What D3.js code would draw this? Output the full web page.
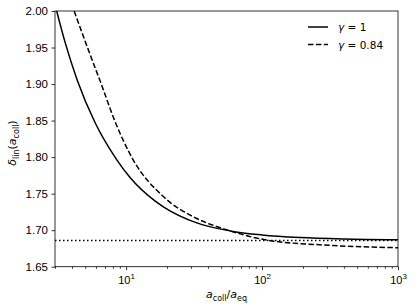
<!DOCTYPE html>
<html lang="en">
<head>
  <meta charset="UTF-8" />
  <title>delta_lin vs a_coll</title>
  <script src="https://d3js.org/d3.v7.min.js"></script>
  <style>
    body { margin: 0; background: #fff; }
    svg { display: block; font-family: "DejaVu Sans", sans-serif; }
    .tick text { fill: #000; }
    .curve { fill: none; stroke: #000; stroke-width: 1.5px; }
  </style>
</head>
<body>
  <svg id="chart" width="416" height="308"></svg>
  <script>
    // values
    const aSolid = [3.0, 3.56, 4.38, 5.92, 8.5, 10.7, 16.3, 18.8, 33.1, 58.2, 100, 190, 400, 1000];
    const dSolid = [2.009, 1.957, 1.905, 1.847, 1.797, 1.772, 1.740, 1.732, 1.710, 1.699, 1.6935, 1.690, 1.688, 1.687];
    const aDashed = [4.15, 5.2, 6.63, 8.2, 11.3, 18.8, 33.1, 46.4, 58.2, 108, 334, 1000];
    const dDashed = [2.000, 1.950, 1.898, 1.851, 1.796, 1.746, 1.716, 1.705, 1.699, 1.6865, 1.679, 1.676];
    const deltaC = 1.686;
    const yTicks = [1.65, 1.70, 1.75, 1.80, 1.85, 1.90, 1.95, 2.00];
    const xMajor = [10, 100, 1000];
    const xExp = ["1", "2", "3"];
    const legendLabels = ["1", "0.84"];

    const margin = {top: 11, right: 18, bottom: 41.3, left: 55};
    const W = 416, H = 308;
    const w = W - margin.left - margin.right, h = H - margin.top - margin.bottom;

    const svg = d3.select("#chart");
    const g = svg.append("g").attr("transform", `translate(${margin.left},${margin.top})`);

    const x = d3.scaleLog().domain([3, 1000]).range([0, w]);
    const y = d3.scaleLinear().domain([1.65, 2.0]).range([h, 0]);

    g.append("clipPath").attr("id", "clip")
      .append("rect").attr("width", w).attr("height", h);

    const line = d3.line().x(d => x(d[0])).y(d => y(d[1])).curve(d3.curveMonotoneX);
    const plot = g.append("g").attr("clip-path", "url(#clip)");

    plot.append("line")
      .attr("x1", 0).attr("x2", w)
      .attr("y1", y(deltaC)).attr("y2", y(deltaC))
      .attr("stroke", "#000").attr("stroke-width", 1.5)
      .attr("stroke-dasharray", "1.5,2.5");

    plot.append("path").attr("class", "curve")
      .attr("d", line(d3.zip(aSolid, dSolid)));
    plot.append("path").attr("class", "curve")
      .attr("stroke-dasharray", "5.5,2.4")
      .attr("d", line(d3.zip(aDashed, dDashed)));

    // axes
    const yAxis = d3.axisLeft(y).tickValues(yTicks).tickFormat(d3.format(".2f"))
      .tickSize(3.5).tickPadding(3.5);
    const ya = g.append("g").call(yAxis);
    ya.selectAll("text").attr("font-size", 11.5);

    const minor = [];
    for (let k = 1; k <= 100; k *= 10)
      for (let m = 2; m <= 9; m++) { const v = m * k; if (v >= 3 && v < 1000) minor.push(v); }
    g.append("g").attr("transform", `translate(0,${h})`)
      .call(d3.axisBottom(x).tickValues(minor).tickSize(2).tickFormat(""));
    const xm = g.append("g").attr("transform", `translate(0,${h})`)
      .call(d3.axisBottom(x).tickValues(xMajor).tickSize(3.5).tickFormat(""));
    xm.selectAll(".tick").each(function(d, i) {
      const t = d3.select(this).append("text").attr("y", 17).attr("text-anchor", "middle")
        .attr("font-size", 11);
      t.append("tspan").text("10");
      t.append("tspan").attr("dy", -4.5).attr("font-size", 8).text(xExp[i]);
    });
    g.selectAll(".domain").remove();
    g.selectAll(".tick line").attr("stroke-width", 0.8);

    g.append("rect").attr("width", w).attr("height", h)
      .attr("fill", "none").attr("stroke", "#000").attr("stroke-width", 0.8);

    // labels
    const xl = svg.append("text").attr("x", margin.left + w / 2).attr("y", 298)
      .attr("text-anchor", "middle").attr("font-size", 11);
    xl.append("tspan").attr("font-style", "italic").text("a");
    xl.append("tspan").attr("font-size", 8).attr("dy", 2.5).text("coll");
    xl.append("tspan").attr("dy", -2.5).text("/");
    xl.append("tspan").attr("font-style", "italic").text("a");
    xl.append("tspan").attr("font-size", 8).attr("dy", 2.5).text("eq");

    const yl = svg.append("text")
      .attr("transform", `translate(16,143) rotate(-90)`)
      .attr("text-anchor", "middle").attr("font-size", 11);
    yl.append("tspan").attr("font-style", "italic").text("δ");
    yl.append("tspan").attr("font-size", 8).attr("dy", 2.5).text("lin");
    yl.append("tspan").attr("dy", -2.5).text("(");
    yl.append("tspan").attr("font-style", "italic").text("a");
    yl.append("tspan").attr("font-size", 8).attr("dy", 2.5).text("coll");
    yl.append("tspan").attr("dy", -2.5).text(")");

    // legend
    const leg = g.append("g").attr("transform", `translate(${w - 90},16)`);
    legendLabels.forEach((lab, i) => {
      const r = leg.append("g").attr("transform", `translate(0,${i * 17.5})`);
      r.append("line").attr("x1", 0).attr("x2", 20).attr("stroke", "#000")
        .attr("stroke-width", 1.5).attr("stroke-dasharray", i ? "5.5,2.4" : null);
      const t = r.append("text").attr("x", 30).attr("y", 4).attr("font-size", 10.5);
      t.append("tspan").attr("font-style", "italic").text("γ");
      t.append("tspan").text(" = " + lab);
    });
  </script>
</body>
</html>
